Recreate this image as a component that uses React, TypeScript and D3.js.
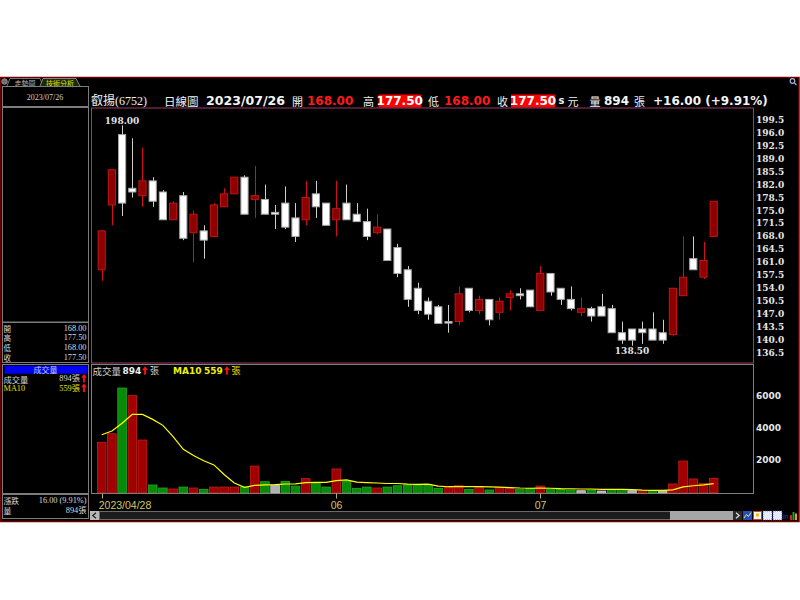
import React from "react";
import * as d3 from "d3";

const dates = [
  "2023/04/28",
  "2023/05/02", "2023/05/03", "2023/05/04", "2023/05/05", "2023/05/08", "2023/05/09", "2023/05/10", "2023/05/11", "2023/05/12",
  "2023/05/15", "2023/05/16", "2023/05/17", "2023/05/18", "2023/05/19", "2023/05/22", "2023/05/23", "2023/05/24", "2023/05/25", "2023/05/26",
  "2023/05/29", "2023/05/30", "2023/05/31",
  "2023/06/01", "2023/06/02", "2023/06/05", "2023/06/06", "2023/06/07", "2023/06/08", "2023/06/09", "2023/06/12", "2023/06/13", "2023/06/14",
  "2023/06/15", "2023/06/16", "2023/06/19", "2023/06/20", "2023/06/21", "2023/06/26", "2023/06/27", "2023/06/28", "2023/06/29", "2023/06/30",
  "2023/07/03", "2023/07/04", "2023/07/05", "2023/07/06", "2023/07/07", "2023/07/10", "2023/07/11", "2023/07/12", "2023/07/13", "2023/07/14",
  "2023/07/17", "2023/07/18", "2023/07/19", "2023/07/20", "2023/07/21", "2023/07/24", "2023/07/25", "2023/07/26",
];

const opens = [159, 176.5, 195.5, 181, 179, 183, 180, 172.5, 179, 169, 169.5, 168, 176, 179.5, 184, 178, 178, 174.5, 177, 173, 172.5, 179.5, 177, 172.5, 177, 174, 172, 169, 170, 165, 159, 154, 150.5, 149, 145, 145, 154, 148, 151, 147.5, 151.5, 152.5, 153.5, 148, 158, 154, 151, 147.5, 148.5, 149, 148.5, 142, 143, 143, 143, 142, 141.5, 152, 162, 157, 168];
const highs = [169.5, 186, 198, 194.5, 192, 184, 180.5, 177.5, 180, 175, 171, 177, 181, 184, 184.5, 187, 182, 176.5, 181.5, 177, 183, 183, 177, 183, 182, 177, 175.5, 174, 170, 166, 160, 155.5, 151.5, 149.5, 149.5, 154.5, 154, 152, 151, 151.5, 153.5, 154, 153.5, 160, 158, 154, 154.5, 151.5, 149, 152.5, 149.5, 145, 143, 145, 147.5, 145.5, 154, 168, 168, 166.5, 177.5];
const lows = [156, 171, 173.5, 178.5, 176, 176, 172.5, 172.5, 167, 161, 162, 168, 176, 179.5, 174, 173, 174, 170, 170, 166.5, 171, 173, 171, 168, 172.5, 172, 167, 168.5, 161.5, 157, 149, 147, 145.5, 144.5, 142, 144, 147.5, 147, 144, 145.5, 148, 151, 149, 148, 152, 149.5, 148, 146.5, 145, 146.5, 142, 139, 138.5, 139, 140, 139, 141, 152, 159, 156.5, 168];
const closes = [169.5, 186, 177, 180, 183, 177.5, 172.5, 177, 167.5, 174, 167, 176.5, 179.5, 184, 174, 179, 174, 174, 170.5, 168, 178.5, 176, 171, 175.5, 172.5, 172, 168, 170.5, 161.5, 158, 151, 148, 147, 144.5, 145, 152.5, 148, 151, 145.5, 150.5, 152.5, 152, 149, 158, 153, 151, 148.5, 148.5, 146.5, 146.5, 142, 140, 140, 142, 140, 140, 154, 157, 159, 161.5, 177.5];
const volumes = [3120, 3650, 6480, 6010, 3260, 477, 290, 230, 350, 290, 210, 350, 350, 350, 350, 1650, 680, 460, 700, 410, 870, 580, 350, 1470, 720, 270, 350, 290, 350, 430, 480, 480, 435, 270, 330, 435, 210, 310, 170, 310, 250, 190, 250, 415, 190, 210, 170, 125, 170, 105, 190, 190, 125, 105, 125, 125, 540, 1960, 850, 580, 894];
const ma10 = [3590, 3820, 4300, 4850, 4850, 4540, 4170, 3470, 2690, 2300, 1980, 1720, 1130, 600, 330, 450, 480, 500, 540, 550, 620, 640, 640, 750, 790, 650, 620, 600, 570, 570, 530, 520, 530, 410, 370, 385, 370, 370, 355, 345, 320, 290, 275, 285, 275, 250, 245, 230, 230, 210, 200, 200, 190, 160, 150, 145, 180, 365, 430, 480, 559];

const priceTicks = [199.5, 196.0, 192.5, 189.0, 185.5, 182.0, 178.5, 175.0, 171.5, 168.0, 164.5, 161.0, 157.5, 154.0, 150.5, 147.0, 143.5, 140.0, 136.5];
const volumeTicks = [2000, 4000, 6000];
const monthTickDates = ["2023/04/28", "2023/06/01", "2023/07/03"];
const monthTickLabels = ["2023/04/28", "06", "07"];

const ohlcLabels = ["開", "高", "低", "收"];
const ohlcValues = ["168.00", "177.50", "168.00", "177.50"];

const CJK = "'Noto Sans CJK TC', sans-serif";
const SERIF = "'Liberation Serif', 'Noto Sans CJK TC', serif";
const SANS = "'DejaVu Sans', 'Noto Sans CJK TC', sans-serif";
const DSERIF = "'DejaVu Serif', serif";
const LSANS = "'Liberation Sans', sans-serif";

function UpArrow({ x, y }: { x: number; y: number }) {
  const d = `M${x},${y - 4.5} L${x + 2.8},${y - 0.8} L${x + 0.9},${y - 0.8} L${x + 0.9},${y + 4} L${x - 0.9},${y + 4} L${x - 0.9},${y - 0.8} L${x - 2.8},${y - 0.8} Z`;
  return <path d={d} fill="#ff1010" />;
}

export default function App() {
  const x = d3.scaleBand<string>().domain(dates).range([96.6, 718.8]).paddingInner(0.2).paddingOuter(0.1);
  const bw = x.bandwidth();
  const cx = (d: string) => (x(d) as number) + bw / 2;
  const y = d3.scaleLinear().domain([133.9, 202.6]).range([362.7, 108.3]);
  const yv = d3.scaleLinear().domain([0, 7925]).range([492.7, 364.7]);
  const maPath = d3.line<number>().x((_, i) => cx(dates[i])).y((d) => yv(d))(ma10) || "";

  const iHi = d3.maxIndex(highs);
  const iLo = d3.minIndex(lows);

  const volColor = (i: number) => {
    const prev = i === 0 ? opens[0] : closes[i - 1];
    if (closes[i] > prev) return ["#a00000", "#c81c1c"];
    if (closes[i] < prev) return ["#078a07", "#22aa22"];
    return ["#b0b0b0", "#d0d0d0"];
  };

  return (
    <svg width={800} height={600} style={{ position: "absolute", left: 0, top: 0 }}>
      <rect x={0} y={0} width={800} height={600} fill="#ffffff" />
      {/* window */}
      <rect x={0.5} y={77.5} width={798.5} height={444} fill="#000" stroke="#6e0000" strokeWidth={1.5} />
      {/* tabs */}
      <circle cx={4.5} cy={81.5} r={2.8} fill="#707070" stroke="#b0b0b0" strokeWidth={0.6} />
      <path d="M7,86 L10,78.5 L40,78.5 L43,86" fill="#000" stroke="#909090" strokeWidth={0.8} />
      <text x={25} y={82.6} fontSize={7} fontFamily={CJK} fill="#b8b8b8" textAnchor="middle" dominantBaseline="central">走勢圖</text>
      <path d="M40,86 L43,78.5 L76,78.5 L80,86" fill="#1a2a10" stroke="#a0a0a0" strokeWidth={0.8} />
      <text x={60} y={82.6} fontSize={7} fontFamily={CJK} fill="#e0e000" textAnchor="middle" dominantBaseline="central">技術分析</text>

      {/* magnifier */}
      <circle cx={792.5} cy={81} r={2.3} fill="none" stroke="#9fb0d8" strokeWidth={1.2} />
      <line x1={794} y1={82.6} x2={796.5} y2={85} stroke="#9fb0d8" strokeWidth={1.3} />

      {/* left panel boxes */}
      <g fill="none" stroke="#7c7c7c" strokeWidth={1}>
        <rect x={2.5} y={86.5} width={86} height={20} />
        <rect x={2.5} y={107.5} width={86} height={214.5} />
        <rect x={2.5} y={322.5} width={86} height={40} />
        <rect x={2.5} y={364.5} width={86} height={129} />
        <rect x={2.5} y={494.5} width={86} height={24} />
      </g>
      <text x={45} y={97} fontSize={8} fontFamily={SERIF} fill="#d0d0d0" textAnchor="middle" dominantBaseline="central">2023/07/26</text>
      {ohlcLabels.map((l, i) => (
        <g key={l + i}>
          <text x={3.5} y={328.3 + i * 9.6} fontSize={7.5} fontFamily={CJK} fill="#d8d8d8" dominantBaseline="central">{l}</text>
          <text x={86.5} y={328.3 + i * 9.6} fontSize={8.3} fontFamily={SERIF} fill="#d8d8d8" textAnchor="end" dominantBaseline="central">{ohlcValues[i]}</text>
        </g>
      ))}
      <rect x={4.5} y={365.7} width={82.5} height={8} fill="#0000f0" />
      <text x={45.5} y={369.8} fontSize={8} fontFamily={CJK} fill="#c8d0ff" textAnchor="middle" dominantBaseline="central">成交量</text>
      <text x={3.5} y={378.5} fontSize={8.3} fontFamily={CJK} fill="#d8d8d8" dominantBaseline="central">成交量</text>
      <text x={80} y={378.5} fontSize={8.3} fontFamily={SERIF} fill="#d8d8d8" textAnchor="end" dominantBaseline="central">894張</text>
      <UpArrow x={84} y={378.5} />
      <text x={3.5} y={388} fontSize={8.3} fontFamily={SERIF} fill="#e0e000" dominantBaseline="central">MA10</text>
      <text x={80} y={388} fontSize={8.3} fontFamily={SERIF} fill="#e0e000" textAnchor="end" dominantBaseline="central">559張</text>
      <UpArrow x={84} y={388} />
      <text x={3.5} y={500} fontSize={7.8} fontFamily={CJK} fill="#d8d8d8" dominantBaseline="central">漲跌</text>
      <text x={86.5} y={500} fontSize={8.3} fontFamily={SERIF} fill="#d8d8d8" textAnchor="end" dominantBaseline="central">16.00 (9.91%)</text>
      <text x={3.5} y={510} fontSize={7.8} fontFamily={CJK} fill="#d8d8d8" dominantBaseline="central">量</text>
      <text x={86.5} y={510} fontSize={8.3} fontFamily={SERIF} fill="#d8d8d8" textAnchor="end" dominantBaseline="central">894張</text>

      {/* header */}
      <g dominantBaseline="central">
        <text x={91} y={100.5} fontSize={12} fontFamily={SERIF} fill="#f0f0f0">叡揚(6752)</text>
        <text x={164} y={100.5} fontSize={11.5} fontFamily={CJK} fill="#f0f0f0">日線圖</text>
        <text x={206} y={100.5} fontSize={12} fontFamily={SANS} fontWeight="bold" fill="#f4f4f4" textLength={79} lengthAdjust="spacingAndGlyphs">2023/07/26</text>
        <text x={292} y={100.5} fontSize={11} fontFamily={CJK} fill="#f0f0f0">開</text>
        <text x={307} y={100.5} fontSize={12} fontFamily={SANS} fontWeight="bold" fill="#ff1a1a">168.00</text>
        <text x={363} y={100.5} fontSize={11} fontFamily={CJK} fill="#f0f0f0">高</text>
        <rect x={378.5} y={94.5} width={42.5} height={13} fill="#ff0000" />
        <text x={399.7} y={100.5} fontSize={12} fontFamily={SANS} fontWeight="bold" fill="#ffffff" textAnchor="middle">177.50</text>
        <text x={428} y={100.5} fontSize={11} fontFamily={CJK} fill="#f0f0f0">低</text>
        <text x={444} y={100.5} fontSize={12} fontFamily={SANS} fontWeight="bold" fill="#ff1a1a">168.00</text>
        <text x={497} y={100.5} fontSize={11} fontFamily={CJK} fill="#f0f0f0">收</text>
        <rect x={511} y={94.5} width={44} height={13} fill="#ff0000" />
        <text x={533} y={100.5} fontSize={12} fontFamily={SANS} fontWeight="bold" fill="#ffffff" textAnchor="middle">177.50</text>
        <text x={558.5} y={100.5} fontSize={10} fontFamily={SANS} fontWeight="bold" fill="#f0f0f0">s</text>
        <text x={567.5} y={100.5} fontSize={11} fontFamily={CJK} fill="#f0f0f0">元</text>
        <text x={589.5} y={100.5} fontSize={11} fontFamily={CJK} fill="#f0f0f0">量</text>
        <text x={604} y={100.5} fontSize={12} fontFamily={SANS} fontWeight="bold" fill="#f4f4f4">894</text>
        <text x={634} y={100.5} fontSize={11} fontFamily={CJK} fill="#f0f0f0">張</text>
        <text x={653} y={100.5} fontSize={12} fontFamily={SANS} fontWeight="bold" fill="#f4f4f4">+16.00 (+9.91%)</text>
      </g>

      {/* panels */}
      <rect x={91.5} y={108} width={662} height={255} fill="none" stroke="#9a3c66" strokeWidth={1} />
      <rect x={91.5} y={364.5} width={662} height={129} fill="none" stroke="#808080" strokeWidth={1} />

      {/* price axis */}
      {priceTicks.map((t) => (
        <text key={t} x={756} y={y(t)} fontSize={9} fontFamily={DSERIF} fontWeight="bold" fill="#e6e6e6" dominantBaseline="central">{t.toFixed(1)}</text>
      ))}
      {/* volume axis */}
      {volumeTicks.map((t) => (
        <text key={t} x={756} y={yv(t)} fontSize={9} fontFamily={SANS} fontWeight="bold" fill="#e6e6e6" dominantBaseline="central">{t}</text>
      ))}

      {/* candles */}
      {dates.map((d, i) => {
        const up = closes[i] > opens[i];
        const c = cx(d);
        const xc = Math.round(c) + 0.5;
        const top = y(Math.max(opens[i], closes[i]));
        const bot = y(Math.min(opens[i], closes[i]));
        const h = Math.max(bot - top, 1.5);
        return (
          <g key={d}>
            <line x1={xc} x2={xc} y1={y(highs[i])} y2={y(lows[i])} stroke={up ? "#d41010" : "#cfcfcf"} strokeWidth={1} />
            <rect x={c - bw / 2 + 0.5} y={top} width={bw - 1} height={h} fill={up ? "#8c0000" : "#ffffff"} stroke={up ? "#c21414" : "#a8a8a8"} strokeWidth={1} />
          </g>
        );
      })}
      <text x={cx(dates[iHi])} y={y(highs[iHi]) - 1} fontSize={9} fontFamily={DSERIF} fontWeight="bold" fill="#e2e2e2" textAnchor="middle">{highs[iHi].toFixed(2)}</text>
      <text x={cx(dates[iLo])} y={y(lows[iLo]) + 8} fontSize={9} fontFamily={DSERIF} fontWeight="bold" fill="#e2e2e2" textAnchor="middle">{lows[iLo].toFixed(2)}</text>

      {/* volume */}
      {dates.map((d, i) => {
        const [f, s] = volColor(i);
        const top = yv(volumes[i]);
        return <rect key={d} x={cx(d) - 4.3} y={top} width={8.6} height={yv(0) - top} fill={f} stroke={s} strokeWidth={0.8} />;
      })}
      <path d={maPath} fill="none" stroke="#ffff00" strokeWidth={1.2} />
      <g dominantBaseline="central">
        <text x={92.5} y={370.7} fontSize={9.5} fontFamily={CJK} fill="#d0d0d0">成交量</text>
        <text x={122.5} y={370.7} fontSize={9} fontFamily={SANS} fontWeight="bold" fill="#f0f0f0">894</text>
        <text x={150} y={370.7} fontSize={9} fontFamily={CJK} fill="#d0d0d0">張</text>
        <text x={173} y={370.7} fontSize={9} fontFamily={SANS} fontWeight="bold" fill="#f0f000">MA10</text>
        <text x={204} y={370.7} fontSize={9} fontFamily={SANS} fontWeight="bold" fill="#f0f000">559</text>
        <text x={231.5} y={370.7} fontSize={9} fontFamily={CJK} fill="#e0e000">張</text>
      </g>
      <UpArrow x={145} y={370.7} />
      <UpArrow x={227} y={370.7} />

      {/* x axis */}
      {monthTickDates.map((d, i) => {
        const c = Math.round(cx(d)) + 0.5;
        const label = monthTickLabels[i];
        const half = label.length * 2.8;
        const lx = Math.max(c, 97 + half);
        return (
          <g key={d}>
            <line x1={c} x2={c} y1={493.5} y2={498.5} stroke="#b8b060" strokeWidth={1} />
            <text x={lx} y={505} fontSize={10.5} fontFamily={LSANS} fill="#d2c85c" textAnchor="middle" dominantBaseline="central">{label}</text>
          </g>
        );
      })}

      {/* scroll bar */}
      <rect x={99.5} y={511.5} width={571} height={8} fill="#1c1c1c" stroke="#6a6a6a" strokeWidth={1} />
      <rect x={90} y={511} width={9} height={9} fill="#b8b8b8" />
      <path d="M96,512.8 L92.8,515.5 L96,518.2" fill="none" stroke="#202020" strokeWidth={1.2} />
      <rect x={670} y={511} width={63} height={9} fill="#a6a6a6" />
      <rect x={733} y={511} width={9} height={9} fill="#2a2a2a" />
      <path d="M736,512.8 L739.2,515.5 L736,518.2" fill="none" stroke="#e0e0e0" strokeWidth={1.2} />
      <g>
        <rect x={743} y={511} width={9} height={9} fill="#2050c0" />
        <path d="M744,518 L746.5,514.5 L748.5,516.5 L751,512.5" fill="none" stroke="#ffe060" strokeWidth={1} />
        <rect x={753.5} y={511.5} width={8} height={8} fill="#f4f4f4" stroke="#d04030" strokeWidth={1} />
        <rect x={756} y={513.5} width={3} height={3} fill="#f0c000" />
        <rect x={763} y={511} width={9} height={9} fill="#e8e8ff" stroke="#3050d0" strokeWidth={0.8} strokeDasharray="1,1" />
        <rect x={773} y={511} width={9} height={9} fill="#e8e8ff" stroke="#3050d0" strokeWidth={0.8} strokeDasharray="1,1" />
        <text x={783} y={518.5} fontSize={7} fontFamily={LSANS} fill="#2040c0">in</text>
        <rect x={790} y={515} width={2} height={5} fill="#e02020" />
        <rect x={792.5} y={512} width={2} height={8} fill="#20a020" />
        <rect x={795} y={513.5} width={2} height={6.5} fill="#e0a020" />
      </g>
    </svg>
  );
}
